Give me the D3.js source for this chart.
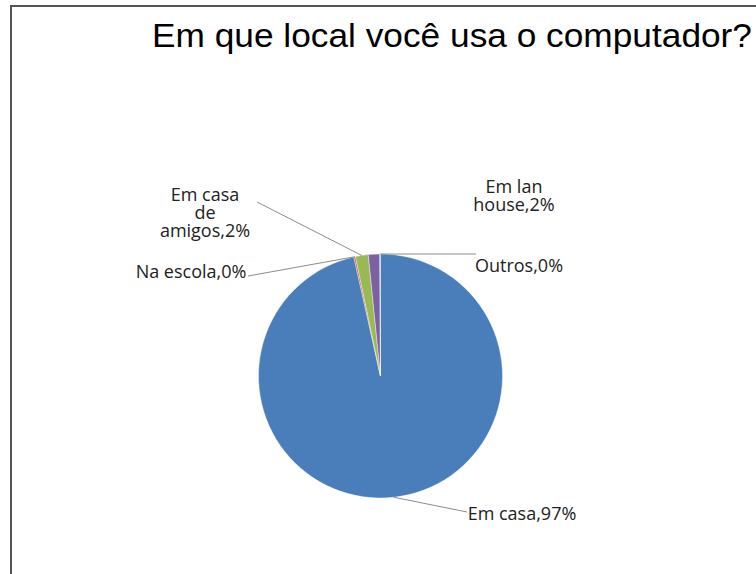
<!DOCTYPE html>
<html>
<head>
<meta charset="utf-8">
<script src="https://cdnjs.cloudflare.com/ajax/libs/d3/7.8.5/d3.min.js"></script>
<style>
  body { margin: 0; background: #fff; }
  svg { display: block; }
</style>
</head>
<body>
<div id="chart"></div>
<script>
// data
var categories = ["Em casa", "Na escola", "Em casa de amigos", "Em lan house", "Outros"];
var values = [96.5, 0.2, 1.7, 1.5, 0.1];
var colors = ["#4A7EBB", "#BE4B48", "#98B954", "#7D60A0", "#46AAC5"];

// label layout (lines of text, anchor point, leader line end)
var labelLines = [
  ["Em casa,{p}"],
  ["Na escola,{p}"],
  ["Em casa", "de", "amigos,{p}"],
  ["Em lan", "house,{p}"],
  ["Outros,{p}"]
];
var labelPos = [[522, 520], [191, 278], [205, 201], [514, 193], [519, 272]];
var leaderEnd = [[467, 512], [248, 276], [257, 202], null, [476, 254]];

var width = 756, height = 574,
  cx = 380.5, cy = 376, radius = 122;

var svg = d3.select("#chart").append("svg")
  .attr("width", width)
  .attr("height", height);

// chart border
svg.append("rect")
  .attr("x", 11).attr("y", 6)
  .attr("width", 800).attr("height", 700)
  .attr("fill", "none")
  .attr("stroke", "#555")
  .attr("stroke-width", 2);

svg.append("text")
  .attr("x", 152).attr("y", 47)
  .attr("font-family", "Liberation Sans, Arial, sans-serif")
  .attr("font-size", 34)
  .attr("textLength", 600)
  .attr("lengthAdjust", "spacingAndGlyphs")
  .attr("fill", "#000")
  .text("Em que local você usa o computador?");

var total = d3.sum(values);
var fmt = d3.format(".0%");

var pie = d3.pie().sort(null).value(function (d) { return d; });
var arcs = pie(values);

var arc = d3.arc().innerRadius(0).outerRadius(radius);

var g = svg.append("g")
  .attr("transform", "translate(" + cx + "," + cy + ")");

g.selectAll("path")
  .data(arcs)
  .enter().append("path")
  .attr("d", arc)
  .attr("fill", function (d, i) { return colors[i]; })
  .attr("stroke", "#fff")
  .attr("stroke-width", 0.4);

// leader lines, from the slice edge to the label
arcs.forEach(function (d, i) {
  if (!leaderEnd[i]) return;
  var a = (d.startAngle + d.endAngle) / 2;
  var x0 = cx + radius * Math.sin(a), y0 = cy - radius * Math.cos(a);
  svg.append("line")
    .attr("x1", x0).attr("y1", y0)
    .attr("x2", leaderEnd[i][0]).attr("y2", leaderEnd[i][1])
    .attr("stroke", "#8c8c8c")
    .attr("stroke-width", 1);
});

// labels
arcs.forEach(function (d, i) {
  var p = fmt(values[i] / total);
  var t = svg.append("text")
    .attr("text-anchor", "middle")
    .attr("font-family", "Open Sans, sans-serif")
    .attr("font-size", 18)
    .attr("fill", "#222");
  var lines = labelLines[i];
  lines.forEach(function (s, k) {
    t.append("tspan")
      .attr("x", labelPos[i][0])
      .attr("y", labelPos[i][1] + k * 18)
      .text(s.replace("{p}", p));
  });
});
</script>
</body>
</html>
